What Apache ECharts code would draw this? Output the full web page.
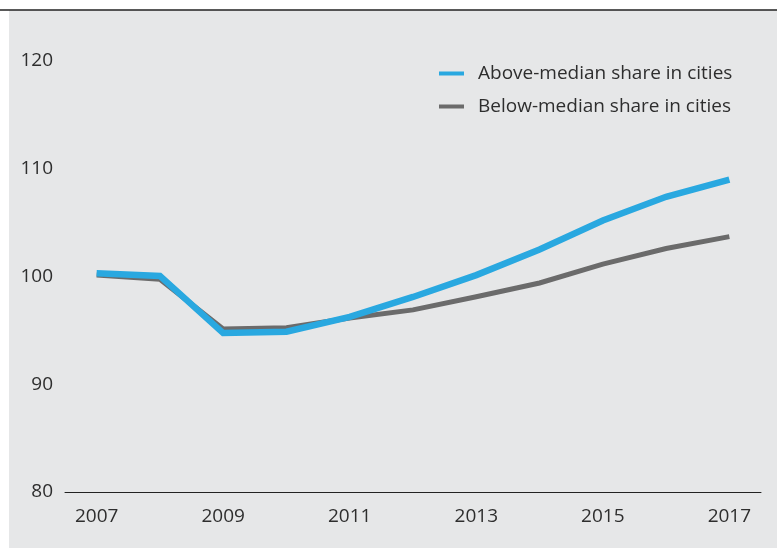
<!DOCTYPE html>
<html>
<head>
<meta charset="utf-8">
<script src="https://cdn.jsdelivr.net/npm/echarts@6/dist/echarts.min.js"></script>
<style>
html,body{margin:0;padding:0;background:#fff;}
#chart{width:777px;height:548px;}
</style>
</head>
<body>
<div id="chart"></div>
<script>
var years = ['2007','2008','2009','2010','2011','2012','2013','2014','2015','2016','2017'];
var aboveName = 'Above-median share in cities';
var belowName = 'Below-median share in cities';
var aboveValues = [100.3, 100.05, 94.75, 94.87, 96.25, 98.1, 100.13, 102.5, 105.2, 107.4, 109.0];
var belowValues = [100.15, 99.75, 95.12, 95.25, 96.15, 96.9, 98.12, 99.4, 101.15, 102.6, 103.7];
var yTicks = [80, 90, 100, 110, 120];

var chart = echarts.init(document.getElementById('chart'), null, {renderer: 'canvas'});
var font = 'Open Sans';
chart.setOption({
  backgroundColor: '#ffffff',
  animation: false,
  graphic: [
    {type: 'rect', z: -10, silent: true, shape: {x: 9, y: 10, width: 768, height: 538}, style: {fill: '#e6e7e8'}},
    {type: 'line', z: 10, silent: true, shape: {x1: 0, y1: 10, x2: 777, y2: 10}, style: {stroke: '#222222', lineWidth: 1.5}}
  ],
  grid: {left: 65, right: 16, top: 61, bottom: 56, containLabel: false},
  legend: {
    orient: 'vertical',
    left: 434,
    top: 59,
    itemWidth: 25,
    itemHeight: 4,
    itemGap: 14,
    icon: 'rect',
    textStyle: {fontFamily: font, fontSize: 19, color: '#2e2e2e', padding: [0, 0, 0, 9]},
    data: [aboveName, belowName]
  },
  xAxis: {
    type: 'category',
    data: years,
    boundaryGap: true,
    axisLine: {lineStyle: {color: '#222222', width: 1}},
    axisTick: {inside: true, length: 11, alignWithLabel: true, interval: 0, lineStyle: {color: '#222222', width: 1}},
    axisLabel: {interval: 1, margin: 15, fontFamily: font, fontSize: 19, color: '#2e2e2e'},
    splitLine: {show: false}
  },
  yAxis: {
    type: 'value',
    min: yTicks[0],
    max: yTicks[yTicks.length - 1],
    interval: 10,
    axisLine: {show: false},
    axisTick: {show: false},
    splitLine: {show: false},
    axisLabel: {margin: 12, padding: [5, 0, 0, 0], fontFamily: font, fontSize: 19, color: '#2e2e2e'}
  },
  series: [
    {
      name: aboveName, type: 'line', data: aboveValues, z: 4,
      showSymbol: false, symbol: 'none',
      lineStyle: {color: '#29a8e0', width: 6.5, join: 'miter'},
      itemStyle: {color: '#29a8e0'}
    },
    {
      name: belowName, type: 'line', data: belowValues, z: 3,
      showSymbol: false, symbol: 'none',
      lineStyle: {color: '#6b6b6b', width: 5, join: 'miter'},
      itemStyle: {color: '#6b6b6b'}
    }
  ]
});
</script>
</body>
</html>
